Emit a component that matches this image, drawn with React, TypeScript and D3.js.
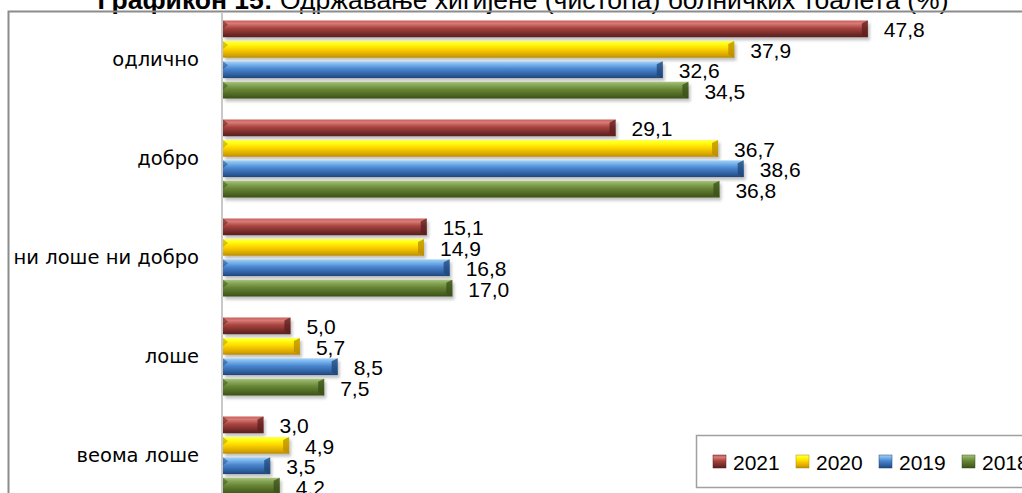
import React from "react";
import * as d3 from "d3";

const categories = ["одлично", "добро", "ни лоше ни добро", "лоше", "веома лоше"];
const seriesNames = ["2021", "2020", "2019", "2018"];
const values2021 = [47.8, 29.1, 15.1, 5.0, 3.0];
const values2020 = [37.9, 36.7, 14.9, 5.7, 4.9];
const values2019 = [32.6, 38.6, 16.8, 8.5, 3.5];
const values2018 = [34.5, 36.8, 17.0, 7.5, 4.2];
const seriesValues = [values2021, values2020, values2019, values2018];

const palettes = [
  { top: "#c9605c", hi: "#d87a76", mid: "#a9443f", bot: "#6b2826", edge: "#5a1f1d" },
  { top: "#ffff55", hi: "#ffff10", mid: "#ffd800", bot: "#d7a400", edge: "#b88c00" },
  { top: "#a7d1f5", hi: "#7ab6ee", mid: "#4a86cf", bot: "#2b5998", edge: "#1f4577" },
  { top: "#a9c57d", hi: "#8aa95a", mid: "#688636", bot: "#47601f", edge: "#3a4f18" },
];

const W = 1022;
const H = 493;

export default function App() {
  const x = d3.scaleLinear().domain([0, 50]).range([223, 897.5]);
  const y = d3
    .scaleBand<string>()
    .domain(categories)
    .range([10, 505])
    .paddingInner(0.212)
    .paddingOuter(0.106);
  const ys = d3
    .scaleBand<string>()
    .domain(seriesNames)
    .range([0, y.bandwidth()])
    .paddingInner(0.18)
    .paddingOuter(0);
  const fmt = (v: number) => v.toFixed(1).replace(".", ",");
  const bh = ys.bandwidth();

  return (
    <svg
      width={W}
      height={H}
      style={{ position: "absolute", left: 0, top: 0, background: "#fff" }}
      fontFamily="'Liberation Sans', Arial, sans-serif"
    >
      <defs>
        {palettes.map((p, i) => (
          <linearGradient key={i} id={`g${i}`} x1="0" y1="0" x2="0" y2="1">
            <stop offset="0" stopColor={p.top} />
            <stop offset="0.18" stopColor={p.hi} />
            <stop offset="0.45" stopColor={p.mid} />
            <stop offset="0.85" stopColor={p.bot} />
            <stop offset="1" stopColor={p.edge} />
          </linearGradient>
        ))}
        <filter id="blur" x="-5%" y="-50%" width="110%" height="200%">
          <feGaussianBlur stdDeviation="1.5" />
        </filter>
      </defs>
      <rect x={0} y={0} width={W} height={H} fill="#fff" />
      {/* title */}
      <text x={523} y={9} textAnchor="middle" fontSize={26.5} fill="#000">
        <tspan fontWeight="bold">Графикон 15:</tspan>
        <tspan> Одржавање хигијене (чистоћа) болничких тоалета (%)</tspan>
      </text>
      {/* outer border */}
      <rect x={8.5} y={11.5} width={1030} height={520} fill="none" stroke="#8c8c8c" strokeWidth={2} />
      {/* axis line */}
      <line x1={222} x2={222} y1={12} y2={H} stroke="#c8c8c8" strokeWidth={2} />
      {/* category labels */}
      {categories.map((c) => (
        <text
          key={c}
          x={199}
          y={(y(c) as number) + y.bandwidth() / 2}
          textAnchor="end"
          dominantBaseline="central"
          fontSize={19.5}
          fontFamily="'DejaVu Sans', sans-serif"
          fill="#000"
        >
          {c}
        </text>
      ))}
      {/* bars */}
      {categories.map((c, ci) =>
        seriesNames.map((s, si) => {
          const v = seriesValues[si][ci];
          const by = (y(c) as number) + (ys(s) as number);
          const x0 = x(0);
          const x1 = x(v);
          const p = palettes[si];
          return (
            <g key={c + s}>
              <rect x={x0 + 2} y={by + 3} width={x1 - x0} height={bh} fill="#9a9a9a" opacity={0.6} filter="url(#blur)" />
              <rect x={x0} y={by} width={x1 - x0} height={bh} fill={`url(#g${si})`} />
              <polygon
                points={`${x1 - 6},${by + 3} ${x1},${by} ${x1},${by + bh} ${x1 - 6},${by + bh - 3}`}
                fill={p.edge}
                opacity={0.75}
              />
              <polygon
                points={`${x0},${by} ${x0 + 5},${by + 4} ${x0},${by + 8}`}
                fill={p.edge}
                opacity={0.5}
              />
              <text
                x={x1 + 16}
                y={by + bh / 2 + 1}
                dominantBaseline="central"
                fontSize={21}
                fill="#000"
              >
                {fmt(v)}
              </text>
            </g>
          );
        })
      )}
      {/* legend */}
      <rect x={696.5} y={435.5} width={400} height={52} fill="#fff" stroke="#a0a0a0" strokeWidth={1.5} />
      {seriesNames.map((s, i) => {
        const lx = 713 + i * 83;
        return (
          <g key={s}>
            <rect x={lx} y={455} width={13} height={13} fill={`url(#g${i})`} stroke={palettes[i].edge} strokeWidth={0.5} />
            <text x={lx + 20} y={462} dominantBaseline="central" fontSize={21} fill="#000">
              {s}
            </text>
          </g>
        );
      })}
    </svg>
  );
}
